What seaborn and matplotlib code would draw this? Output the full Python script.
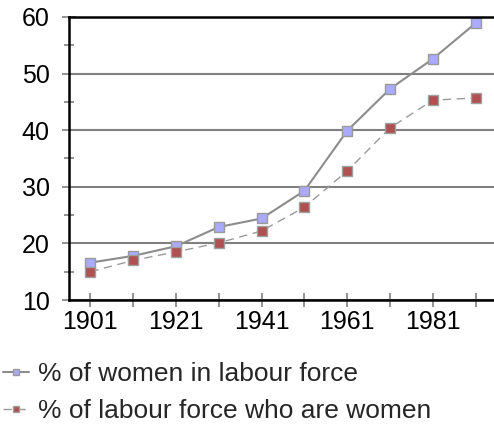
import seaborn as sns
import matplotlib.pyplot as plt
import pandas as pd

# Data
years = [1901, 1911, 1921, 1931, 1941, 1951, 1961, 1971, 1981, 1991]
women_in_labour = [16.6, 17.8, 19.5, 22.9, 24.4, 29.3, 39.9, 47.3, 52.6, 58.9]
labour_women = [15.0, 17.0, 18.5, 20.1, 22.2, 26.4, 32.8, 40.4, 45.3, 45.7]
label_1 = '% of women in labour force'
label_2 = '% of labour force who are women'
x_labels = [1901, 1921, 1941, 1961, 1981]

df1 = pd.DataFrame({'year': years, 'value': women_in_labour})
df2 = pd.DataFrame({'year': years, 'value': labour_women})

sns.set_style('white')
plt.rcParams['font.family'] = ['Liberation Sans', 'DejaVu Sans']

fig = plt.figure(figsize=(4.94, 4.26), dpi=100)
ax = fig.add_axes([69 / 494, 1 - 300 / 426, 428 / 494, 283 / 426])

sns.lineplot(data=df1, x='year', y='value', ax=ax, color='#8c8c8c', linewidth=1.5,
             marker='s', markersize=7, markerfacecolor='#aaaaff',
             markeredgecolor='#9a9a9a', markeredgewidth=1, label=label_1)
sns.lineplot(data=df2, x='year', y='value', ax=ax, color='#9a9a9a', linewidth=1,
             linestyle=(0, (6, 4)), marker='s', markersize=7,
             markerfacecolor='#b05050', markeredgecolor='#a0a0a0',
             markeredgewidth=1, label=label_2)

ax.set_xlim(1896, 1996)
ax.set_ylim(10, 60)
ax.set_xticks(years)
ax.set_xticklabels([str(y) if y in x_labels else '' for y in years])
ax.set_yticks([10, 20, 30, 40, 50, 60])
ax.set_yticks([15, 25, 35, 45, 55], minor=True)
ax.yaxis.grid(True, color='#808080', linewidth=1.5)
ax.set_axisbelow(True)
ax.set_xlabel('')
ax.set_ylabel('')

ax.tick_params(axis='both', which='major', direction='inout', length=10, width=1.2,
               color='#808080', labelsize=18, labelcolor='black',
               left=True, bottom=True, top=False, right=False)
ax.tick_params(axis='y', which='major', pad=9)
ax.tick_params(axis='x', which='major', pad=2)
ax.tick_params(axis='y', which='minor', direction='inout', length=7, width=1.2,
               color='#808080', left=True)

for side in ['left', 'bottom', 'top']:
    ax.spines[side].set_color('black')
    ax.spines[side].set_linewidth(1.8)
ax.spines['right'].set_visible(False)

handles, labels = ax.get_legend_handles_labels()
ax.get_legend().remove()
fig.legend(handles, labels, loc='lower left', bbox_to_anchor=(0.0, 0.0),
           frameon=False, fontsize=19, handlelength=1.0, handletextpad=0.35,
           labelspacing=0.5, borderaxespad=0.0, borderpad=0.1, markerscale=0.7)

fig.savefig('out.png', dpi=100)
